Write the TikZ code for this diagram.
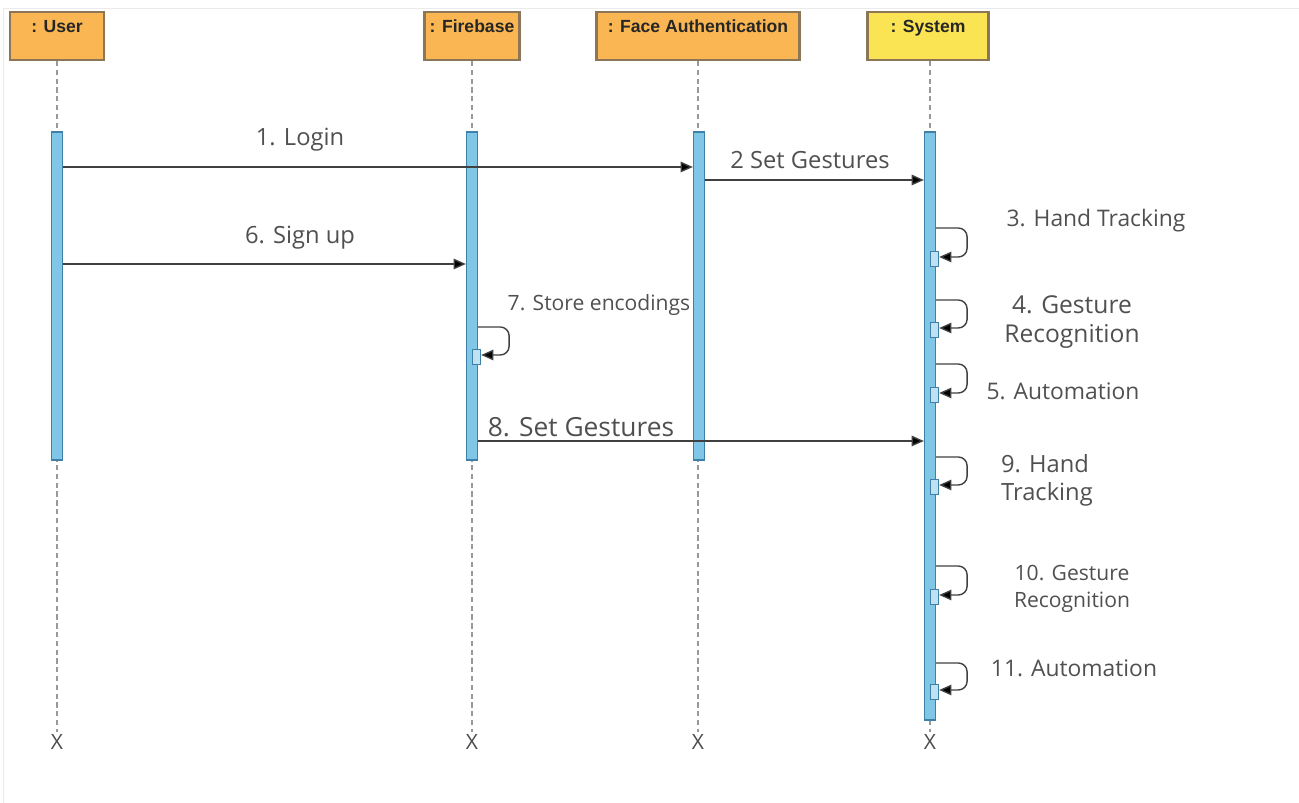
\documentclass[tikz,border=0pt]{standalone}
\usepackage{fontspec}
\setmainfont{Open Sans}
\newfontfamily\headfont{Liberation Sans}
\usetikzlibrary{arrows.meta}

\definecolor{HeadOrange}{RGB}{250,182,82}
\definecolor{HeadYellow}{RGB}{250,228,84}
\definecolor{HeadEdge}{RGB}{140,118,88}
\definecolor{BarBlue}{RGB}{128,198,230}
\definecolor{BarEdge}{RGB}{62,128,168}
\definecolor{LabelGray}{RGB}{80,80,80}

\tikzset{
  headbox/.style={draw=HeadEdge, line width=1.2pt, minimum height=0.96cm, inner sep=0pt},
  headtext/.style={font=\headfont\bfseries\fontsize{10}{11}\selectfont, text=black!85, inner sep=0pt},
  actbar/.style={draw=BarEdge, fill=BarBlue, line width=0.7pt, minimum width=0.22cm, inner sep=0pt},
  execbox/.style={draw=BarEdge, fill=BarBlue!50, line width=0.6pt, minimum width=0.16cm, minimum height=0.3cm, inner sep=0pt},
  lifeline/.style={draw=black!40, line width=0.6pt, dash pattern=on 3pt off 2pt},
  msg/.style={draw=black!75, line width=0.8pt, -{Triangle[length=7pt,width=6pt,fill=black]}},
  msglabel/.style={text=LabelGray, font=\fontsize{13}{16}\selectfont, align=center, inner sep=1pt},
  endmark/.style={text=black!70, font=\fontsize{12}{12}\selectfont, inner sep=1pt}
}

\newcommand{\drawhead}[5]{% Parameters: name, x, width, colour, label
  \node[headbox, fill=#4, minimum width=#3] (#1) at (#2,36) {};
  \node[headtext, anchor=north] (#1txt) at ([yshift=-5pt]#1.north) {#5};
}
\newcommand{\drawbar}[4]{% Parameters: name, x, top, bottom
  \node[actbar, minimum height={(#4-#3)*0.02cm}] (#1) at (#2,{(#3+#4)/2}) {};
}
\newcommand{\drawselfcall}[4]{% Parameters: bar, name, top, bottom
  \node[execbox, anchor=north west] (#2) at ([xshift=-0.12cm]#1.east |- 0,#4-6) {};
  \draw[msg, rounded corners=5pt] (#1.east |- 0,#3) -- ++(31,0) -- ++(0,{#4-#3}) -- (#2.east |- 0,#4);
}

\begin{document}
\begin{tikzpicture}[x=0.02cm,y=-0.02cm]
  \useasboundingbox (0,0) rectangle (1299,803);
  \draw[black!8] (3,8) rectangle (1299,803);

  % lifeline heads
  \drawhead{user}{57}{1.88cm}{HeadOrange}{: User}
  \drawhead{firebase}{472}{1.9cm}{HeadOrange}{: Firebase}
  \drawhead{face}{698}{4.06cm}{HeadOrange}{: Face Authentication}
  \drawhead{system}{928}{2.42cm}{HeadYellow}{: System}

  % destruction marks
  \node[endmark] (userend) at (57,742) {X};
  \node[endmark] (firebaseend) at (472,742) {X};
  \node[endmark] (faceend) at (698,742) {X};
  \node[endmark] (systemend) at (930,742) {X};

  \draw[lifeline] (user.south) -- (userend.north);
  \draw[lifeline] (firebase.south) -- (firebaseend.north);
  \draw[lifeline] (face.south) -- (faceend.north);
  \draw[lifeline] (system.south -| systemend) -- (systemend.north);

  % activation bars
  \drawbar{userbar}{57}{132}{460}
  \drawbar{firebasebar}{472}{132}{460}
  \drawbar{facebar}{699}{132}{460}
  \drawbar{systembar}{930}{132}{720}

  % messages
  \draw[msg] (userbar.east |- 0,167) -- (facebar.west |- 0,167);
  \node[msglabel, font=\fontsize{13.5}{16}\selectfont] (m1) at (300,140) {1. Login};
  \draw[msg] (facebar.east |- 0,180) -- (systembar.west |- 0,180);
  \node[msglabel, font=\fontsize{13.5}{16}\selectfont] (m2) at (810,160) {2 Set Gestures};
  \draw[msg] (userbar.east |- 0,264) -- (firebasebar.west |- 0,264);
  \node[msglabel, font=\fontsize{13.5}{16}\selectfont] (m6) at (300,238) {6. Sign up};
  \draw[msg] (firebasebar.east |- 0,441) -- (systembar.west |- 0,441);
  \node[msglabel, font=\fontsize{15}{18}\selectfont] (m8) at (581,427) {8. Set Gestures};

  % self calls
  \drawselfcall{firebasebar}{s7}{327}{355}
  \node[msglabel, font=\fontsize{12}{14}\selectfont] (m7) at (599,305) {7. Store encodings};
  \drawselfcall{systembar}{s3}{228}{257}
  \node[msglabel] (m3) at (1096,221) {3. Hand Tracking};
  \drawselfcall{systembar}{s4}{300}{328}
  \node[msglabel, font=\fontsize{14}{17}\selectfont] (m4) at (1072,322) {4. Gesture\\Recognition};
  \drawselfcall{systembar}{s5}{364}{393}
  \node[msglabel] (m5) at (1063,391) {5. Automation};
  \drawselfcall{systembar}{s9}{457}{485}
  \node[msglabel, font=\fontsize{13.5}{16}\selectfont, align=left, anchor=west] (m9) at (999,480) {9. Hand\\Tracking};
  \drawselfcall{systembar}{s10}{566}{595}
  \node[msglabel, font=\fontsize{12}{15}\selectfont] (m10) at (1072,589) {10. Gesture\\Recognition};
  \drawselfcall{systembar}{s11}{663}{690}
  \node[msglabel] (m11) at (1074,668) {11. Automation};
\end{tikzpicture}
\end{document}
